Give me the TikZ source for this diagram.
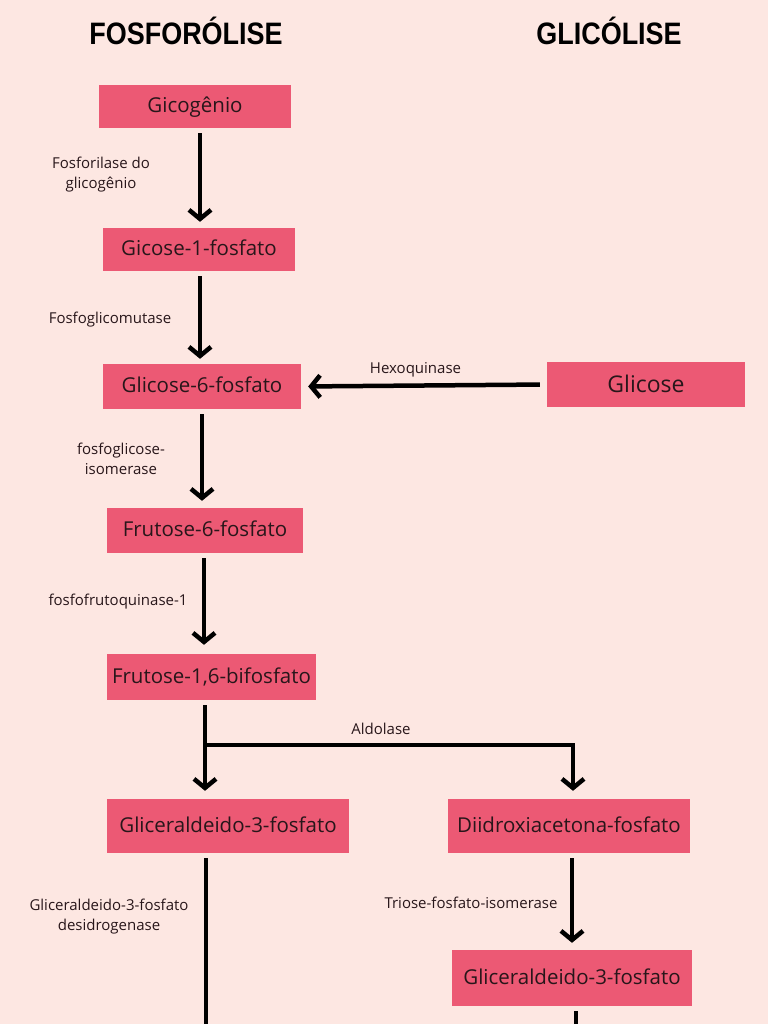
\documentclass[tikz,border=0pt]{standalone}
\usepackage{fontspec}
\usepackage{graphicx}
\setmainfont{Open Sans}
\newfontfamily\titlefont{Liberation Sans}
\usetikzlibrary{arrows.meta}
\definecolor{bg}{RGB}{253,231,226}
\definecolor{boxc}{RGB}{236,89,116}
\definecolor{ink}{RGB}{40,22,26}
\tikzset{
  box/.style={fill=boxc, inner sep=0pt, text=ink, font=\fontsize{20.5}{24}\selectfont, text height=16pt, text depth=4pt},
  lbl/.style={text=ink, font=\fontsize{15}{20}\selectfont, align=center, inner sep=0pt},
  ttl/.style={text=black, inner sep=0pt},
  arr/.style={line width=4.5pt, -{Straight Barb[length=9pt,width=22pt]}},
  ln/.style={line width=4.5pt},
}
\begin{document}
\begin{tikzpicture}[x=1pt,y=-1pt]
\fill[bg] (0,0) rectangle (768,1024);
\useasboundingbox (0,0) rectangle (768,1024);

\node[ttl] (t1) at (186,31) {\scalebox{0.87}[1]{\titlefont\bfseries\fontsize{31}{31}\selectfont FOSFORÓLISE}};
\node[ttl] (t2) at (609,31) {\scalebox{0.87}[1]{\titlefont\bfseries\fontsize{31}{31}\selectfont GLICÓLISE}};

\node[box, minimum width=192pt, minimum height=43pt] (b1) at (195,106.5) {Gicogênio};
\node[box, minimum width=192pt, minimum height=43pt] (b2) at (199,249.5) {Gicose-1-fosfato};
\node[box, minimum width=198pt, minimum height=45pt] (b3) at (202,386.5) {Glicose-6-fosfato};
\node[box, minimum width=198pt, minimum height=45pt, font=\fontsize{23}{26}\selectfont, text height=20pt, text depth=3.6pt] (gl) at (646,384.5) {Glicose};
\node[box, minimum width=196pt, minimum height=45pt] (b4) at (205,530.5) {Frutose-6-fosfato};
\node[box, minimum width=209pt, minimum height=46pt] (b5) at (211.5,677) {Frutose-1,6-bifosfato};
\node[box, minimum width=242pt, minimum height=54pt] (b6) at (228,826) {Gliceraldeido-3-fosfato};
\node[box, minimum width=242pt, minimum height=54pt] (d1) at (569,826) {Diidroxiacetona-fosfato};
\node[box, minimum width=240pt, minimum height=56pt] (d2) at (572,978) {Gliceraldeido-3-fosfato};

\coordinate (bl) at (206,1024);
\coordinate (br) at (576,1024);
\coordinate (split) at (205,745);
\coordinate (corner) at (573,745);

\draw[arr, shorten <=5pt, shorten >=6pt] (b1.south -| 200,0) -- (b2.north -| 200,0);
\draw[arr, shorten <=5pt, shorten >=5pt] (b2.south -| 200,0) -- (b3.north -| 200,0);
\draw[arr, shorten <=5pt, shorten >=7pt] (b3.south -| 202,0) -- (b4.north -| 202,0);
\draw[arr, shorten <=5pt, shorten >=9pt] (b4.south -| 204,0) -- (b5.north -| 204,0);
\draw[arr, shorten <=7pt, shorten >=7pt] (gl.west) -- (b3.east);
\draw[arr, shorten >=8pt] (b5.south -| split) ++(0,5) -- (b6.north -| split);
\draw[arr, shorten >=8pt] (split) -- (corner) -- (d1.north -| corner);
\draw[ln, shorten <=5pt] (b6.south -| bl) -- (bl);
\draw[arr, shorten <=5pt, shorten >=7pt] (d1.south -| 572,0) -- (d2.north -| 572,0);
\draw[ln, shorten <=5pt] (d2.south -| br) -- (br);

\node[lbl] (l1) at (101,175) {Fosforilase do\\glicogênio};
\node[lbl] (l2) at (110,320) {Fosfoglicomutase};
\node[lbl] (l3) at (121,459) {fosfoglicose-\\isomerase};
\node[lbl] (l4) at (118,602) {fosfofrutoquinase-1};
\node[lbl] (l5) at (415.5,370) {Hexoquinase};
\node[lbl] (l6) at (381,729) {Aldolase};
\node[lbl] (l7) at (109,917) {Gliceraldeido-3-fosfato\\desidrogenase};
\node[lbl] (l8) at (471,903) {Triose-fosfato-isomerase};
\end{tikzpicture}
\end{document}
